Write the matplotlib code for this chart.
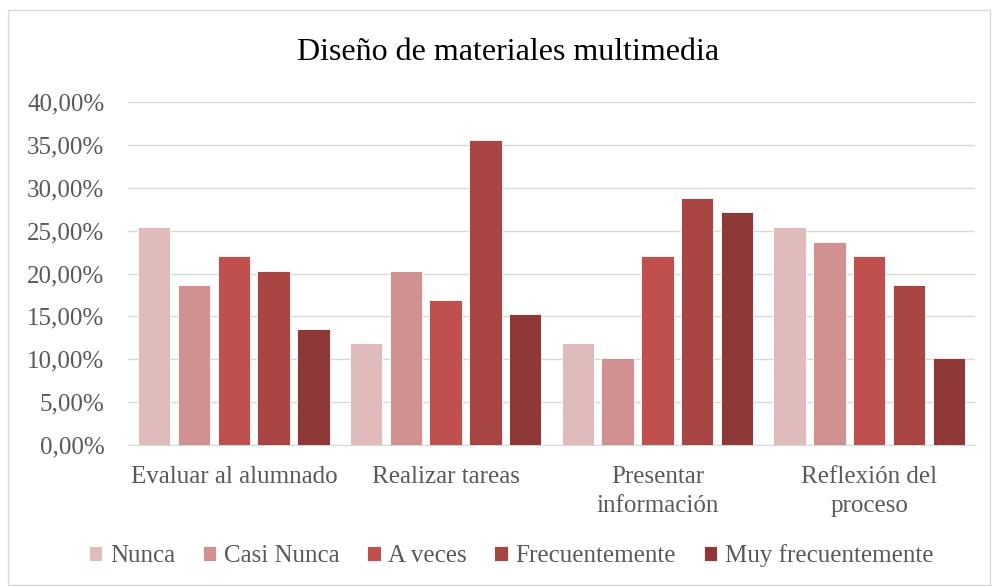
import numpy as np
import matplotlib.pyplot as plt
from matplotlib.ticker import FuncFormatter
from matplotlib.patches import Rectangle

# datos (porcentajes)
categorias = ["Evaluar al alumnado", "Realizar tareas", "Presentar\ninformación", "Reflexión del\nproceso"]
series = ["Nunca", "Casi Nunca", "A veces", "Frecuentemente", "Muy frecuentemente"]
nunca = [25.42, 11.86, 11.86, 25.42]
casi_nunca = [18.64, 20.34, 10.17, 23.73]
a_veces = [22.03, 16.95, 22.03, 22.03]
frecuentemente = [20.34, 35.59, 28.81, 18.64]
muy_frecuentemente = [13.56, 15.25, 27.12, 10.17]
colores = ["#DFBBBB", "#D29191", "#C0504D", "#A94543", "#8E3937"]

valores = [nunca, casi_nunca, a_veces, frecuentemente, muy_frecuentemente]

fuente = "Liberation Serif"
gris = "#595959"

fig = plt.figure(figsize=(9.92, 5.87), dpi=100)
ax = fig.add_axes([128/992, 1-445/587, 847/992, 343/587])

# borde exterior del grafico
fig.patches.append(Rectangle((8/992, 2/587), 982/992, 575/587, transform=fig.transFigure,
                             fill=False, edgecolor="#D9D9D9", linewidth=1))

x = np.arange(len(categorias))
paso = 0.188
ancho = 0.153
for i, (nombre, vals) in enumerate(zip(series, valores)):
    ax.bar(x + (i - 2) * paso, vals, ancho, color=colores[i], label=nombre,
           edgecolor="white", linewidth=0.6, zorder=3)

ax.set_xlim(-0.5, len(categorias) - 0.5)
ax.set_ylim(0, 40)
ax.set_yticks(np.arange(0, 41, 5))
ax.yaxis.set_major_formatter(FuncFormatter(lambda v, p: f"{v:.2f}%".replace(".", ",")))
ax.grid(axis="y", color="#D9D9D9", linewidth=1, zorder=0)
for s in ["top", "right", "left"]:
    ax.spines[s].set_visible(False)
ax.spines["bottom"].set_color("#D9D9D9")
ax.tick_params(axis="both", length=0, colors=gris, labelsize=18)
ax.tick_params(axis="y", pad=17)
ax.tick_params(axis="x", pad=15)
ax.set_xticks(x)
ax.set_xticklabels(categorias, fontfamily=fuente, linespacing=1.4)
for t in ax.get_yticklabels():
    t.set_fontfamily(fuente)

fig.text(508/992, 1-52/587, "Diseño de materiales multimedia", ha="center", va="center",
         fontsize=23, fontfamily=fuente, color="black")

leg = fig.legend(loc="center", bbox_to_anchor=(511/992, 1-556/587), ncol=5, frameon=False,
                 prop={"family": fuente, "size": 18}, handlelength=0.55, handleheight=0.55,
                 handletextpad=0.3, columnspacing=1.1, labelcolor=gris)

fig.savefig("out.png", dpi=100)
